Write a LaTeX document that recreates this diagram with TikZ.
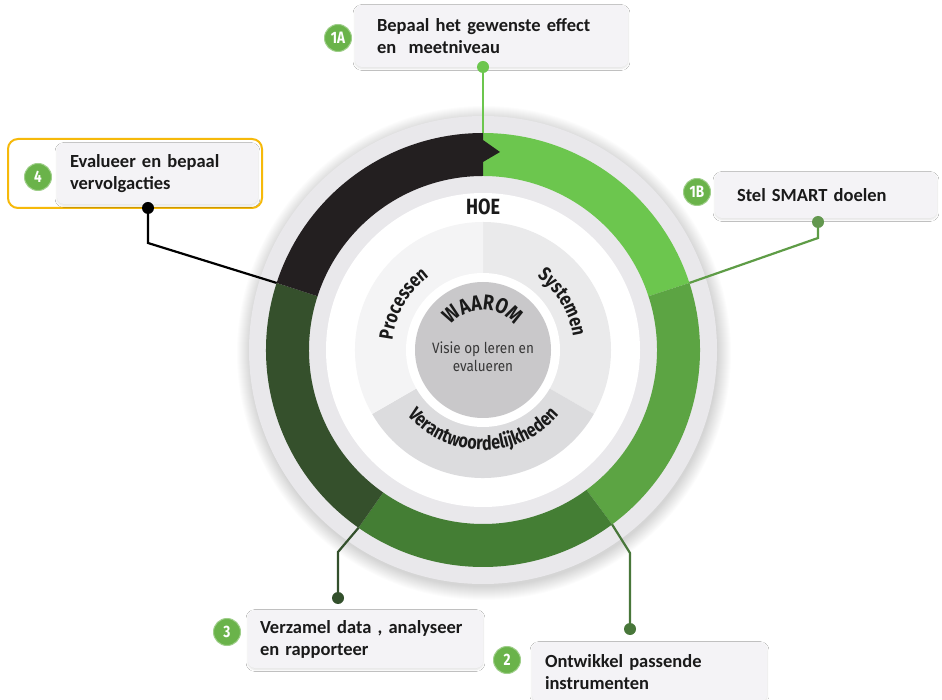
\documentclass[tikz,border=0pt]{standalone}
\usepackage{fontspec}
\setmainfont{Carlito}
\newfontfamily\condfont[FakeStretch=0.82]{Fira Sans}
\newfontfamily\visiefont[FakeStretch=0.9]{Fira Sans}
\usetikzlibrary{decorations.text,shadows.blur}

\definecolor{ringA}{HTML}{6CC64E}
\definecolor{ringB}{HTML}{5CA443}
\definecolor{ringC}{HTML}{447E34}
\definecolor{ringD}{HTML}{35502C}
\definecolor{ringE}{HTML}{231F20}
\definecolor{halo}{HTML}{E9E8EB}
\definecolor{secP}{HTML}{F4F4F5}
\definecolor{secS}{HTML}{EAEAEB}
\definecolor{secV}{HTML}{DCDCDE}
\definecolor{core}{HTML}{C9C8CA}
\definecolor{boxfill}{HTML}{F4F3F6}
\definecolor{badge}{HTML}{6AB34A}
\definecolor{frame}{HTML}{F6B90A}
\definecolor{ink}{HTML}{1A1A1A}
\definecolor{lineB}{HTML}{5E9C46}
\definecolor{lineC}{HTML}{48773A}
\definecolor{lineD}{HTML}{33502C}

\newcommand\arcfont{\condfont\bfseries\fontsize{19.5}{21}\selectfont}
\newcommand\whyfont{\condfont\bfseries\fontsize{21.5}{22}\selectfont}

\begin{document}
\begin{tikzpicture}[x=1pt,y=1pt,
  box/.style={rectangle, rounded corners=7pt, fill=boxfill,
    blur shadow={shadow blur steps=6, shadow xshift=0pt, shadow yshift=-1.5pt,
      shadow opacity=12, shadow blur extra rounding=1.5pt},
    align=left, text=ink, inner ysep=0pt,
    font=\bfseries\fontsize{18.5}{22}\selectfont},
  badge/.style={circle, fill=badge, draw=badge!65!white, line width=1pt,
    minimum size=27pt, inner sep=0pt, text=white,
    font=\condfont\bfseries\fontsize{16.5}{16.5}\selectfont},
  dot/.style={circle, inner sep=0pt, minimum size=12pt},
  conn/.style={line width=2.2pt},
  arctext/.style={decorate, decoration={text along path, text align=center,
    text color=ink, text={|\arcfont|#1}}}
]
\useasboundingbox (0,0) rectangle (942,699);
\fill[white] (0,0) rectangle (942,699);

% soft shadow under the disc
\foreach \i in {1,...,14}
  \fill[black, opacity=0.011] (484,346) circle ({233+\i});

\begin{scope}[shift={(483,349)}]
  % pale disc behind the ring
  \fill[halo] (0,0) circle (234);
  % coloured ring, clockwise from the top
  \fill[ringA] (90:217) arc[start angle=90, end angle=18, radius=217]
     -- (18:174) arc[start angle=18, end angle=90, radius=174] -- cycle;
  \fill[ringB] (18:217) arc[start angle=18, end angle=-53.5, radius=217]
     -- (-53.5:174) arc[start angle=-53.5, end angle=18, radius=174] -- cycle;
  \fill[ringC] (-53.5:217) arc[start angle=-53.5, end angle=-125, radius=217]
     -- (-125:174) arc[start angle=-125, end angle=-53.5, radius=174] -- cycle;
  \fill[ringD] (235:217) arc[start angle=235, end angle=162, radius=217]
     -- (162:174) arc[start angle=162, end angle=235, radius=174] -- cycle;
  \fill[ringE] (162:217) arc[start angle=162, end angle=90, radius=217]
     -- (0,210) -- (17,198) -- (0,188)
     -- (90:174) arc[start angle=90, end angle=162, radius=174] -- cycle;
  % inner white field and the three sectors
  \fill[white] (0,0) circle (157);
  \fill[secS] (0,0) -- (90:128) arc[start angle=90, end angle=-30, radius=128] -- cycle;
  \fill[secV] (0,0) -- (-30:128) arc[start angle=-30, end angle=-150, radius=128] -- cycle;
  \fill[secP] (0,0) -- (210:128) arc[start angle=210, end angle=90, radius=128] -- cycle;
  \fill[white] (0,0) circle (77);
  \fill[core] (0,0) circle (68);

  % curved labels
  \path[arctext={Processen}] (178:91) arc[start angle=178, end angle=122, radius=91];
  \path[arctext={Systemen}] (58:91) arc[start angle=58, end angle=4, radius=91];
  \path[arctext={|\whyfont|WAAROM}] (150:40) arc[start angle=150, end angle=30, radius=40];
  \path[arctext={Verantwoordelijkheden}] (210:100) arc[start angle=210, end angle=330, radius=100];

  \node[font=\condfont\bfseries\fontsize{22}{22}\selectfont, text=ink] (hoe) at (0,143) {HOE};
  \node[font=\visiefont\fontsize{15}{18}\selectfont, text=black!78, align=center] (visie) at (0,-7)
    {Visie op leren en\\evalueren};

  % attachment points on the outer edge of the ring
  \coordinate (r1A) at (90:217);
  \coordinate (r1B) at (18:217);
  \coordinate (r2) at (-53.5:217);
  \coordinate (r3) at (235:217);
  \coordinate (r4) at (162:217);
\end{scope}

% step boxes
\node[box, minimum width=273, minimum height=62, text width=229] (b1A) at (491.5,663)
  {Bepaal het gewenste effect\\en\ \ meetniveau};
\node[box, minimum width=222, minimum height=46, text width=178] (b1B) at (826,504)
  {Stel SMART doelen};
\node[rectangle, rounded corners=10pt, draw=frame, line width=2pt,
  minimum width=254, minimum height=69] (f4) at (135,525.5) {};
\node[box, minimum width=201, minimum height=61, text width=175] (b4) at (157.5,525.5)
  {Evalueer en bepaal\\vervolgacties};
\node[box, minimum width=235, minimum height=58, text width=211] (b3) at (365.5,60)
  {Verzamel data , analyseer\\en rapporteer};
\node[box, minimum width=235, minimum height=60, text width=209] (b2) at (649.5,27)
  {Ontwikkel passende\\instrumenten};

% numbered badges
\node[badge] (n1A) at (338,661) {1A};
\node[badge] (n1B) at (697,507) {1B};
\node[badge] (n4) at (38,522) {4};
\node[badge] (n3) at (227,67) {3};
\node[badge] (n2) at (507,39) {2};

% connector dots and bends
\node[dot, fill=ringA] (d1A) at (483,632) {};
\node[dot, fill=lineB!85!gray] (d1B) at (818,477) {};
\node[dot, fill=lineC] (d2) at (630,70) {};
\node[dot, fill=lineD] (d3) at (338,101) {};
\node[dot, fill=black] (d4) at (148,491) {};
\coordinate (k1B) at (818,461);
\coordinate (k2) at (630,146);
\coordinate (k3) at (338,147);
\coordinate (k4) at (148,456);

\draw[conn, ringA] (d1A) -- (r1A);
\draw[conn, lineB] (d1B) -- (k1B) -- (r1B);
\draw[conn, lineC] (d2) -- (k2) -- (r2);
\draw[conn, lineD] (d3) -- (k3) -- (r3);
\draw[conn, black] (d4) -- (k4) -- (r4);
\end{tikzpicture}
\end{document}
